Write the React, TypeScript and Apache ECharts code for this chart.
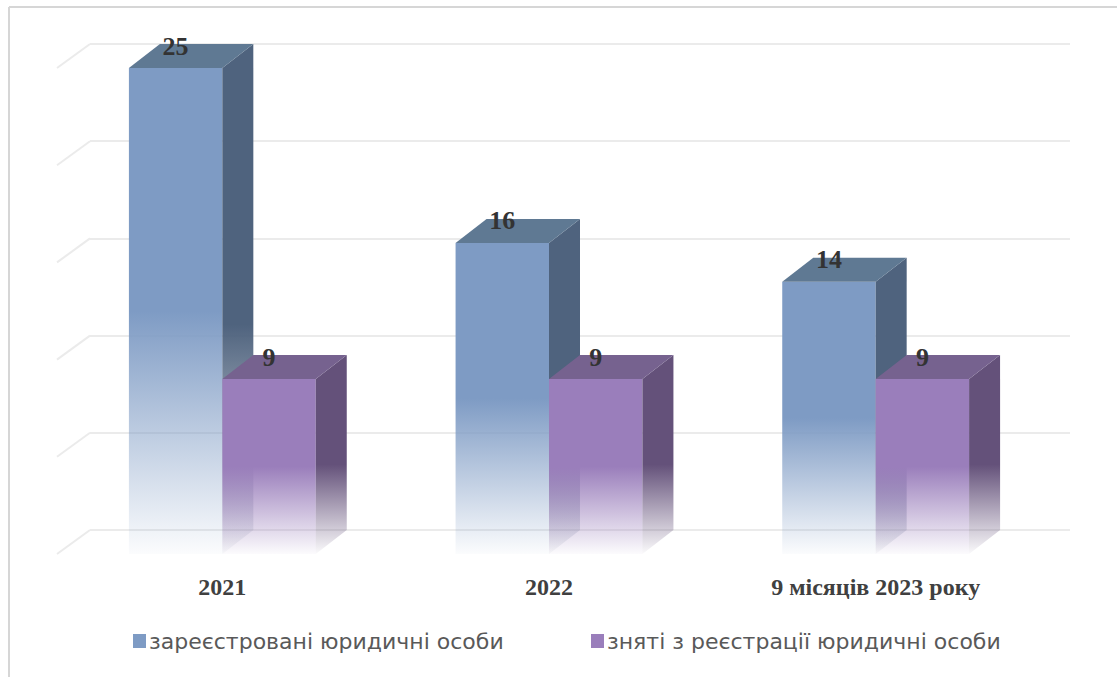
import React, { useEffect, useRef } from "react";
import * as echarts from "echarts";

const categories = ["2021", "2022", "9 місяців 2023 року"];
const registered = [25, 16, 14];
const removed = [9, 9, 9];
const yTicks = [0, 5, 10, 15, 20, 25];
const seriesNames = ["зареєстровані юридичні особи", "зняті з реєстрації юридичні особи"];

const DX = 31;
const DY = 24;

const BLUE = { front: [126, 155, 196], top: [95, 121, 147], side: [79, 99, 126] };
const PURPLE = { front: [154, 126, 187], top: [118, 98, 143], side: [100, 81, 122] };

const rgba = (c: number[], a: number) => `rgba(${c[0]},${c[1]},${c[2]},${a})`;
const fade = (c: number[], start: number) =>
  new echarts.graphic.LinearGradient(0, 0, 0, 1, [
    { offset: 0, color: rgba(c, 1) },
    { offset: start, color: rgba(c, 1) },
    { offset: 1, color: rgba(c, 0.03) },
  ]);

function makeBar(side: number, pal: { front: number[]; top: number[]; side: number[] }) {
  return (params: any, api: any) => {
    const ci = api.value(0);
    const v = api.value(1);
    const p = api.coord([ci, v]);
    const b = api.coord([ci, 0]);
    const band = api.size([1, 0])[0];
    const bw = band * 0.286;
    const x0 = side < 0 ? p[0] - bw : p[0];
    const x1 = x0 + bw;
    const yt = p[1];
    const yb = b[1];
    return {
      type: "group",
      children: [
        {
          type: "rect",
          shape: { x: x0, y: yt, width: bw, height: yb - yt },
          style: { fill: fade(pal.front, 0.5) },
        },
        {
          type: "polygon",
          shape: { points: [[x1, yt], [x1 + DX, yt - DY], [x1 + DX, yb - DY], [x1, yb]] },
          style: { fill: fade(pal.side, 0.55) },
        },
        {
          type: "polygon",
          shape: { points: [[x0, yt], [x1, yt], [x1 + DX, yt - DY], [x0 + DX, yt - DY]] },
          style: { fill: rgba(pal.top, 1) },
        },
        {
          type: "text",
          x: x0 + bw / 2,
          y: yt - DY + 2,
          style: {
            text: String(v),
            align: "center",
            verticalAlign: "middle",
            font: "bold 26px 'Liberation Serif', 'Times New Roman', serif",
            fill: "#333333",
          },
        },
      ],
    };
  };
}

const legendText = { fontFamily: "'DejaVu Sans', sans-serif", fontSize: 22, color: "#595959", padding: [0, 0, 0, -2] };

export default function App() {
  const ref = useRef<HTMLDivElement>(null);
  useEffect(() => {
    if (!ref.current) return;
    const chart = echarts.init(ref.current, undefined, { renderer: "svg" });
    chart.setOption({
      animation: false,
      backgroundColor: "#ffffff",
      graphic: [
        { type: "line", shape: { x1: 9, y1: 7, x2: 9, y2: 677 }, style: { stroke: "#d6d6d6", lineWidth: 2 } },
        { type: "line", shape: { x1: 9, y1: 7, x2: 1117, y2: 7 }, style: { stroke: "#d6d6d6", lineWidth: 2 } },
      ],
      legend: [
        {
          left: 128,
          top: 625,
          itemWidth: 13,
          itemHeight: 14,
          icon: "rect",
          data: [seriesNames[0]],
          textStyle: legendText,
        },
        {
          left: 586,
          top: 625,
          itemWidth: 13,
          itemHeight: 14,
          icon: "rect",
          data: [seriesNames[1]],
          textStyle: legendText,
        },
      ],
      grid: [
        { left: 90, right: 47, top: 44, bottom: 147 },
        { left: 59, right: 78, top: 68, bottom: 123 },
      ],
      xAxis: [
        { type: "category", gridIndex: 0, data: categories, show: false },
        {
          type: "category",
          gridIndex: 1,
          data: categories,
          axisLine: { show: false },
          axisTick: { show: false },
          axisLabel: {
            margin: 21,
            fontFamily: "'Liberation Serif', 'Times New Roman', serif",
            fontWeight: "bold",
            fontSize: 24,
            color: "#404040",
          },
        },
      ],
      yAxis: [
        {
          type: "value",
          gridIndex: 0,
          min: 0,
          max: 25,
          interval: 5,
          axisLabel: { show: false },
          axisLine: { show: false },
          axisTick: { show: false },
          splitLine: { lineStyle: { color: "#ebebeb", width: 2 } },
        },
        {
          type: "value",
          gridIndex: 1,
          min: 0,
          max: 25,
          interval: 5,
          show: false,
          splitLine: { show: false },
        },
      ],
      series: [
        {
          type: "custom",
          xAxisIndex: 0,
          yAxisIndex: 0,
          silent: true,
          z: 1,
          data: yTicks.map((t) => [0, t]),
          renderItem: (params: any, api: any) => {
            const p = api.coord([0, api.value(1)]);
            const x = params.coordSys.x;
            return {
              type: "line",
              shape: { x1: x, y1: p[1], x2: x - DX - 2, y2: p[1] + DY },
              style: { stroke: "#ebebeb", lineWidth: 2 },
            };
          },
        },
        {
          name: seriesNames[0],
          type: "custom",
          xAxisIndex: 1,
          yAxisIndex: 1,
          z: 3,
          itemStyle: { color: rgba(BLUE.front, 1) },
          data: registered.map((v, i) => [i, v]),
          renderItem: makeBar(-1, BLUE),
        },
        {
          name: seriesNames[1],
          type: "custom",
          xAxisIndex: 1,
          yAxisIndex: 1,
          z: 4,
          itemStyle: { color: rgba(PURPLE.front, 1) },
          data: removed.map((v, i) => [i, v]),
          renderItem: makeBar(1, PURPLE),
        },
      ],
    });
    return () => chart.dispose();
  }, []);
  return <div ref={ref} style={{ position: "absolute", left: 0, top: 0, width: 1117, height: 677 }} />;
}
